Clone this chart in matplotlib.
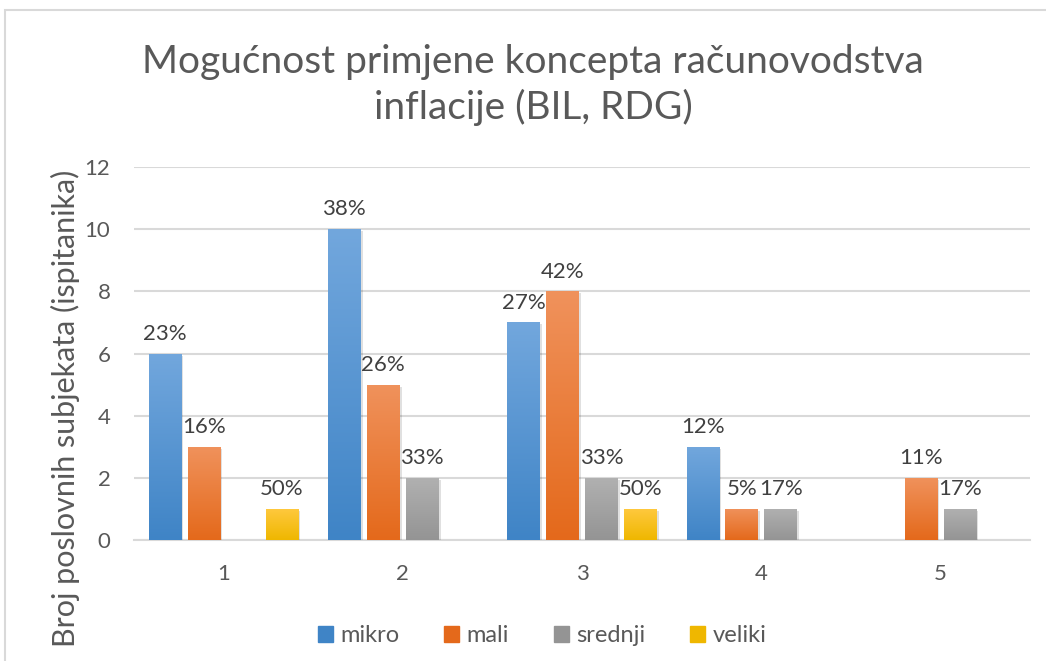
import numpy as np
import matplotlib
matplotlib.use("Agg")
import matplotlib.pyplot as plt
import matplotlib.patheffects as pe
from matplotlib.colors import LinearSegmentedColormap
from matplotlib.patches import Rectangle

plt.rcParams["font.family"] = ["Lato", "DejaVu Sans"]

categories = ["1", "2", "3", "4", "5"]
series = ["mikro", "mali", "srednji", "veliki"]
mikro = [6, 10, 7, 3, 0]
mali = [3, 5, 8, 1, 2]
srednji = [0, 2, 2, 1, 1]
veliki = [1, 0, 1, 0, 0]

# top / bottom colours of the vertical gradient on each series
gradients = {
    "mikro": ("#72a7dd", "#3f84c6"),
    "mali": ("#f0925c", "#e4691b"),
    "srednji": ("#b1b1b1", "#949494"),
    "veliki": ("#ffc93f", "#efb700"),
}

TEXT = "#595959"
GRID = "#d9d9d9"

fig = plt.figure(figsize=(10.46, 6.61), dpi=100)
fig.patches.append(Rectangle((5 / 1046, -0.1), 1.2, 1.1 - 10 / 661,
                             transform=fig.transFigure, fill=False,
                             edgecolor=GRID, linewidth=1.5))
ax = fig.add_axes([134 / 1046, 121 / 661, 896 / 1046, 373 / 661])

x = np.arange(len(categories))
slot = 0.2175
width = 0.181
grad = np.linspace(0, 1, 256).reshape(-1, 1)

for k, (name, vals) in enumerate(zip(series, [mikro, mali, srednji, veliki])):
    total = sum(vals)
    top, bottom = gradients[name]
    cmap = LinearSegmentedColormap.from_list(name, [bottom, top])
    bars = ax.bar(x + (k - 1.5) * slot, vals, width, color=bottom, label=name,
                  zorder=3,
                  path_effects=[pe.SimplePatchShadow(offset=(1.5, -1.5), shadow_rgbFace="#000000", alpha=0.12),
                                pe.Normal()])
    for b, v in zip(bars, vals):
        if v == 0:
            continue
        im = ax.imshow(grad, cmap=cmap, aspect="auto", origin="lower", zorder=4,
                       extent=(b.get_x(), b.get_x() + b.get_width(), 0, v))
        im.set_clip_path(b)
        ax.annotate(f"{v / total:.0%}", (b.get_x() + b.get_width() / 2, v),
                    xytext=(0, 7), textcoords="offset points", ha="center",
                    va="bottom", fontsize=16, color="#404040", zorder=5)

ax.set_xlim(-0.5, len(categories) - 0.5)
ax.set_ylim(0, 12)
ax.set_yticks(range(0, 13, 2))
ax.set_xticks(x)
ax.set_xticklabels(categories)
ax.tick_params(length=0, labelsize=16, labelcolor=TEXT)
ax.tick_params(axis="x", pad=17)
ax.tick_params(axis="y", pad=17)
ax.grid(axis="y", color=GRID, linewidth=1.5, zorder=0)
for s in ["top", "right", "left"]:
    ax.spines[s].set_visible(False)
ax.spines["bottom"].set_color(GRID)
ax.spines["bottom"].set_linewidth(1.5)
ax.spines["bottom"].set_zorder(2)

fig.text(533 / 1046, 1 - 85 / 661, "Mogućnost primjene koncepta računovodstva\ninflacije (BIL, RDG)",
         ha="center", va="center", fontsize=28, color=TEXT, linespacing=1.28)
fig.text(65 / 1046, 1 - 408 / 661, "Broj poslovnih subjekata (ispitanika)",
         rotation=90, ha="center", va="center", fontsize=22, color=TEXT)

handles = [Rectangle((0, 0), 1, 1, color=gradients[s][1]) for s in series]
fig.legend(handles, series, loc="center", bbox_to_anchor=(542 / 1046, 1 - 636 / 661),
           ncol=4, frameon=False, fontsize=17, labelcolor=TEXT,
           handlelength=0.65, handleheight=0.65, handletextpad=0.3, columnspacing=1.9)

fig.savefig("out.png", dpi=100)
